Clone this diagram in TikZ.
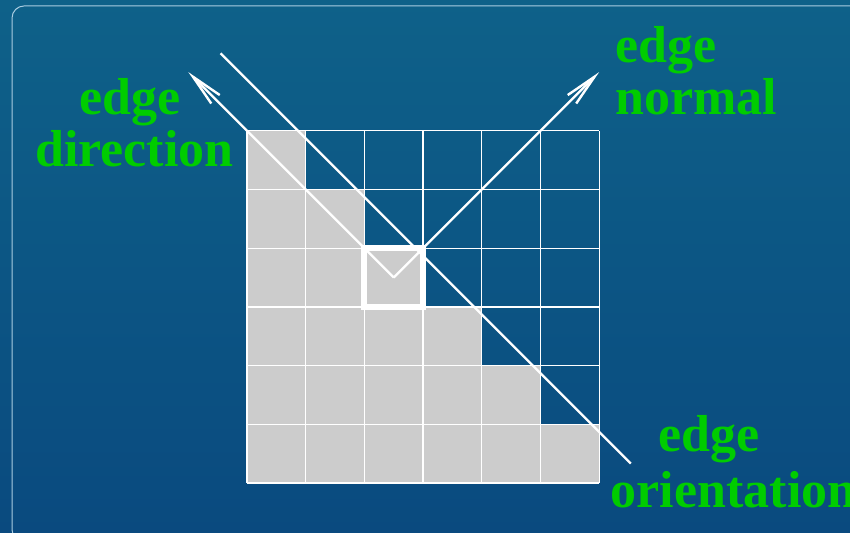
\documentclass[tikz,border=0pt]{standalone}
\usepackage{fontspec}
\setmainfont{Liberation Serif}
\usetikzlibrary{arrows.meta}

\definecolor{bgtop}{RGB}{14,97,137}
\definecolor{bgbottom}{RGB}{10,74,127}
\definecolor{textgreen}{RGB}{0,204,0}
\definecolor{cellgray}{RGB}{204,204,204}
\definecolor{framecol}{RGB}{170,205,225}

\begin{document}
\begin{tikzpicture}[x=58.7pt, y=58.7pt,
    greentext/.style={font=\fontsize{52}{52}\selectfont\bfseries, text=textgreen,
      inner sep=0pt, align=left, anchor=base west},
    vec/.style={white, line width=2.4pt, -{Straight Barb[length=32pt, width=12pt]}}]
  % Background
  \useasboundingbox (-4.208,-0.852) rectangle (10.273,8.228);
  \clip (-4.208,-0.852) rectangle (10.273,8.228);
  \shade[top color=bgtop, bottom color=bgbottom] (-4.208,-0.852) rectangle (10.273,8.228);
  \draw[framecol, line width=1pt, rounded corners=12pt] (-4.003,-1) rectangle (10.5,8.126);

  % Cells below the edge
  \foreach \r in {0,...,5}
    \fill[cellgray] (0,\r) rectangle (6-\r,\r+1);
  \draw[white, line width=1.3pt, step=1] (0,0) grid (6,6);

  % Edge
  \draw[white, line width=2.4pt] (-0.45,7.32) -- (6.54,0.33);

  % Vectors from the cell centre
  \coordinate (c) at (2.5,3.5);
  \coordinate (dirtip) at (-1,7);
  \coordinate (nortip) at (6,7);
  \draw[vec] (c) -- (dirtip);
  \draw[vec] (c) -- (nortip);
  \draw[white, line width=6pt] (2,3) rectangle (3,4);

  % Labels (anchored on the last line)
  \node[greentext] (ldir) at (-3.612,5.388) {\hspace*{44pt}edge\\direction};
  \node[greentext] (lnor) at (6.269,6.269) {edge\\normal};
  \node[greentext] (lori) at (6.196,-0.426) {\hspace*{48pt}edge\\[4.5pt]orientation};
\end{tikzpicture}
\end{document}
